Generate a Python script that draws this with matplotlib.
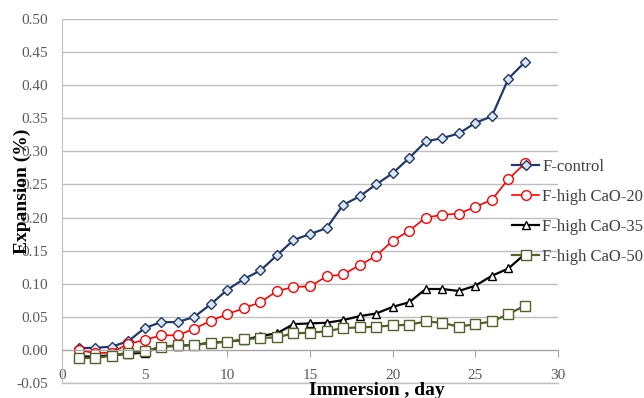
import numpy as np
import matplotlib
matplotlib.use("Agg")
import matplotlib.pyplot as plt
from matplotlib.ticker import MultipleLocator, FormatStrFormatter

plt.rcParams['font.family'] = ['Liberation Serif', 'DejaVu Serif']

# immersion days
days = list(range(1, 29))

f_control = [0.003, 0.003, 0.005, 0.013, 0.033, 0.042, 0.042, 0.050, 0.069, 0.091,
             0.107, 0.120, 0.143, 0.166, 0.175, 0.184, 0.219, 0.232, 0.250, 0.267,
             0.290, 0.315, 0.320, 0.327, 0.343, 0.353, 0.410, 0.435]
f_cao20 = [0.000, -0.005, -0.004, 0.009, 0.015, 0.022, 0.022, 0.032, 0.044, 0.054,
           0.063, 0.072, 0.089, 0.095, 0.096, 0.111, 0.114, 0.128, 0.142, 0.165,
           0.180, 0.200, 0.204, 0.206, 0.216, 0.227, 0.258, 0.282]
f_cao35 = [-0.010, -0.010, -0.008, -0.006, -0.004, 0.005, 0.006, 0.0075, 0.011, 0.0125,
           0.015, 0.021, 0.025, 0.039, 0.040, 0.041, 0.045, 0.051, 0.055, 0.065,
           0.072, 0.092, 0.092, 0.089, 0.097, 0.112, 0.123, 0.145]
f_cao50 = [-0.0125, -0.012, -0.009, -0.004, -0.002, 0.005, 0.007, 0.007, 0.011, 0.012,
           0.016, 0.018, 0.019, 0.025, 0.026, 0.028, 0.033, 0.034, 0.035, 0.037,
           0.038, 0.043, 0.041, 0.035, 0.039, 0.043, 0.054, 0.067]

series_names = ['F-control', 'F-high CaO-20', 'F-high CaO-35', 'F-high CaO-50']

fig = plt.figure(figsize=(6.44, 3.98), dpi=100)
ax = fig.add_axes([0.0963, 0.0377, 0.7702, 0.9146])

ax.plot(days, f_control, color='#1f3a68', lw=1.6, marker='D', ms=5.5,
        mfc='#dce6f2', mec='#1f3a68', mew=1.0, label=series_names[0])
ax.plot(days, f_cao20, color='#ff0000', lw=1.2, marker='o', ms=7,
        mfc='white', mec='#ff0000', mew=1.0, label=series_names[1])
ax.plot(days, f_cao35, color='black', lw=1.6, marker='^', ms=6,
        mfc='white', mec='black', mew=1.0, label=series_names[2])
ax.plot(days, f_cao50, color='#4f6228', lw=1.6, marker='s', ms=7,
        mfc='white', mec='#4f6228', mew=1.0, label=series_names[3])

ax.set_xlim(0, 30)
ax.set_ylim(-0.05, 0.5)
ax.xaxis.set_major_locator(MultipleLocator(5))
ax.yaxis.set_major_locator(MultipleLocator(0.05))
ax.yaxis.set_major_formatter(FormatStrFormatter('%.2f'))

ax.grid(axis='y', color='#bfbfbf', lw=1.0)
ax.axhline(-0.05, color='#bfbfbf', lw=1.0, clip_on=False, zorder=0.5)
ax.set_axisbelow(True)
for s in ['top', 'right']:
    ax.spines[s].set_visible(False)
ax.spines['bottom'].set_position(('data', 0))
ax.spines['bottom'].set_color('#a6a6a6')
ax.spines['left'].set_color('#bfbfbf')

ax.tick_params(axis='x', direction='out', length=5, color='#a6a6a6',
               labelsize=11, labelcolor='#595959', pad=9)
ax.tick_params(axis='y', length=0, labelsize=11, labelcolor='#595959', pad=10)

fig.text(0.585, 0.018, 'Immersion , day', fontsize=14, fontweight='bold',
         ha='center', va='center')
fig.text(0.034, 0.52, 'Expansion (%)', fontsize=14, fontweight='bold',
         rotation=90, ha='center', va='center')

leg = ax.legend(loc='upper left', bbox_to_anchor=(0.785, 0.618), frameon=False,
                fontsize=12, handlelength=1.6, handletextpad=0.2,
                labelspacing=0.85, borderaxespad=0, bbox_transform=fig.transFigure)
for t in leg.get_texts():
    t.set_color('#404040')

fig.savefig('out.png', dpi=100)
